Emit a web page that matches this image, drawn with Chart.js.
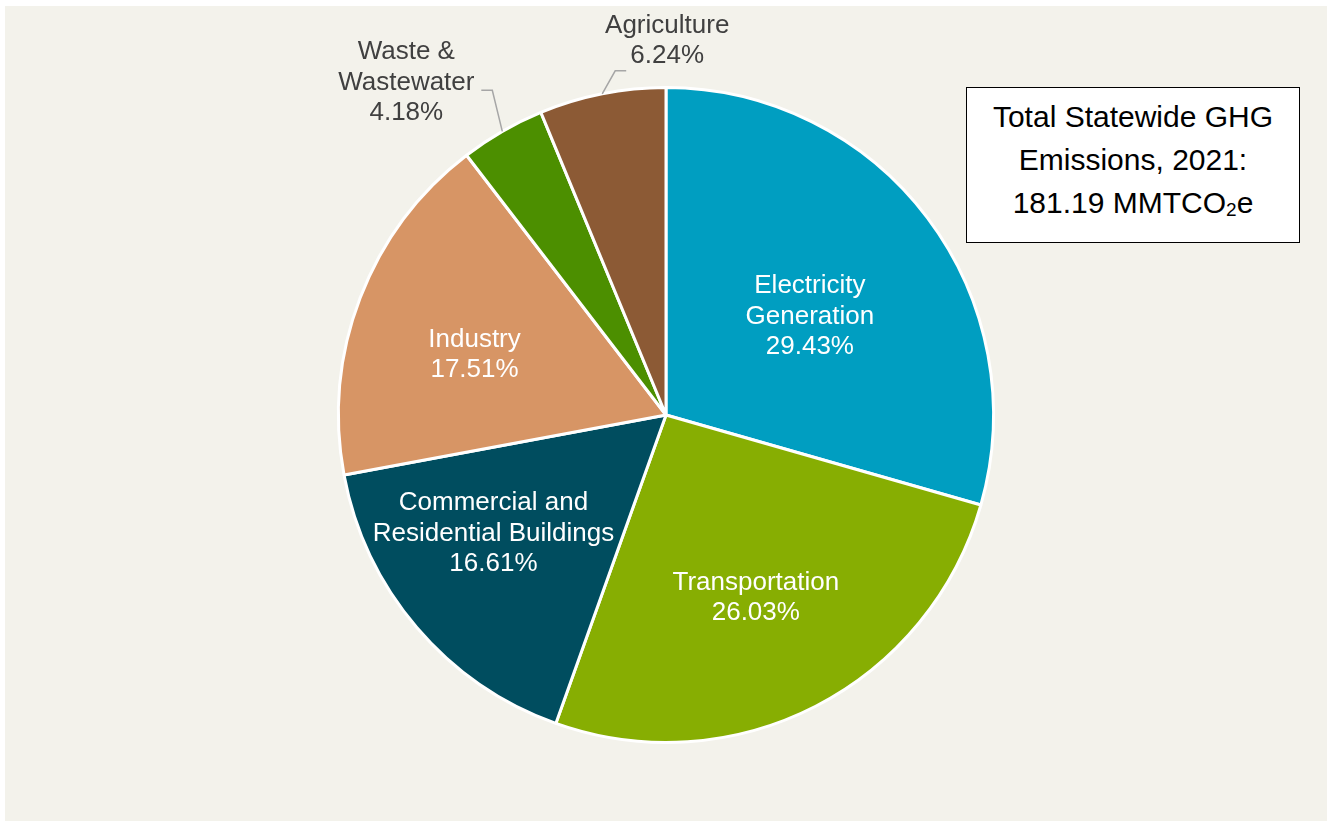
<!DOCTYPE html>
<html lang="en">
<head>
    <meta charset="UTF-8">
    <title>Statewide GHG Emissions by Sector, 2021</title>
    <style>
        body {
            margin: 0;
            background-color: #ffffff;
            font-family: "Liberation Sans", Arial, sans-serif;
        }
        .wrap {
            position: relative;
            width: 1327px;
            height: 821px;
        }
        .total-box {
            position: absolute;
            left: 966px;
            top: 87px;
            width: 334px;
            height: 156px;
            box-sizing: border-box;
            border: 1px solid #000000;
            background-color: #ffffff;
            color: #000000;
            font-size: 30px;
            line-height: 43px;
            text-align: center;
            padding-top: 7px;
        }
        .total-box sub {
            font-size: 19px;
            vertical-align: -3px;
            line-height: 0;
        }
    </style>
</head>
<body>
    <div class="wrap">
        <canvas id="ghgPie" width="1327" height="821"></canvas>
        <div class="total-box">
            Total Statewide GHG<br>
            Emissions, 2021:<br>
            181.19 MMTCO<sub>2</sub>e
        </div>
    </div>

    <script src="https://cdn.jsdelivr.net/npm/chart.js"></script>
    <script>
        // sectors, clockwise from 12 o'clock
        const sectors = [
            "Electricity Generation",
            "Transportation",
            "Commercial and Residential Buildings",
            "Industry",
            "Waste & Wastewater",
            "Agriculture"
        ];
        const sectorLines = [
            ["Electricity", "Generation"],
            ["Transportation"],
            ["Commercial and", "Residential Buildings"],
            ["Industry"],
            ["Waste &", "Wastewater"],
            ["Agriculture"]
        ];
        const shares = [29.43, 26.03, 16.61, 17.51, 4.18, 6.24];
        const sliceColors = ["#009ec1", "#87ae02", "#004d5f", "#d79565", "#4c8f00", "#8c5a35"];

        // where each label sits relative to its slice
        const labelLayout = [
            { k: 0.6, dx: -13, dy: 20 },
            { k: 0.6, dx: 0, dy: 8 },
            { k: 0.6, dx: -23, dy: -9 },
            { k: 0.6, dx: -8, dy: 10 },
            { outside: true, dx: -96, dy: -49, elbow: [-10, -41], tail: -11 },
            { outside: true, dx: 65, dy: -53, elbow: [13, -23], tail: 11 }
        ];

        const panelBackground = {
            id: "panelBackground",
            beforeDraw(chart) {
                const ctx = chart.ctx;
                ctx.save();
                ctx.fillStyle = "#ffffff";
                ctx.fillRect(0, 0, chart.width, chart.height);
                ctx.fillStyle = "#f3f2eb";
                ctx.fillRect(5, 6, chart.width - 5, chart.height - 6);
                ctx.restore();
            }
        };

        const sliceLabels = {
            id: "sliceLabels",
            afterDatasetsDraw(chart) {
                const ctx = chart.ctx;
                const arcs = chart.getDatasetMeta(0).data;
                const lineHeight = 30.5;
                ctx.save();
                ctx.font = '26px "Liberation Sans", Arial, sans-serif';
                ctx.textAlign = "center";
                ctx.textBaseline = "middle";
                arcs.forEach((arc, i) => {
                    const p = arc.getProps(["x", "y", "startAngle", "endAngle", "outerRadius"], true);
                    const mid = (p.startAngle + p.endAngle) / 2;
                    const lay = labelLayout[i];
                    const lines = sectorLines[i].concat([shares[i].toFixed(2) + "%"]);
                    let lx, ly;
                    if (lay.outside) {
                        const ex = p.x + Math.cos(mid) * p.outerRadius;
                        const ey = p.y + Math.sin(mid) * p.outerRadius;
                        const bx = ex + lay.elbow[0];
                        const by = ey + lay.elbow[1];
                        ctx.strokeStyle = "#a6a6a6";
                        ctx.lineWidth = 1.5;
                        ctx.beginPath();
                        ctx.moveTo(ex, ey);
                        ctx.lineTo(bx, by);
                        ctx.lineTo(bx + lay.tail, by);
                        ctx.stroke();
                        lx = ex + lay.dx;
                        ly = ey + lay.dy;
                        ctx.fillStyle = "#404040";
                    } else {
                        lx = p.x + Math.cos(mid) * p.outerRadius * lay.k + lay.dx;
                        ly = p.y + Math.sin(mid) * p.outerRadius * lay.k + lay.dy;
                        ctx.fillStyle = "#ffffff";
                    }
                    lines.forEach((t, j) => {
                        ctx.fillText(t, lx, ly + (j - (lines.length - 1) / 2) * lineHeight);
                    });
                });
                ctx.restore();
            }
        };

        new Chart(document.getElementById("ghgPie"), {
            type: "pie",
            data: {
                labels: sectors,
                datasets: [{
                    data: shares,
                    backgroundColor: sliceColors,
                    borderColor: "#ffffff",
                    borderWidth: 3,
                    radius: 327.5
                }]
            },
            options: {
                responsive: false,
                animation: false,
                layout: {
                    padding: { left: 5, right: 0, top: 9, bottom: 0 }
                },
                plugins: {
                    legend: { display: false },
                    tooltip: { enabled: false }
                }
            },
            plugins: [panelBackground, sliceLabels]
        });
    </script>
</body>
</html>
